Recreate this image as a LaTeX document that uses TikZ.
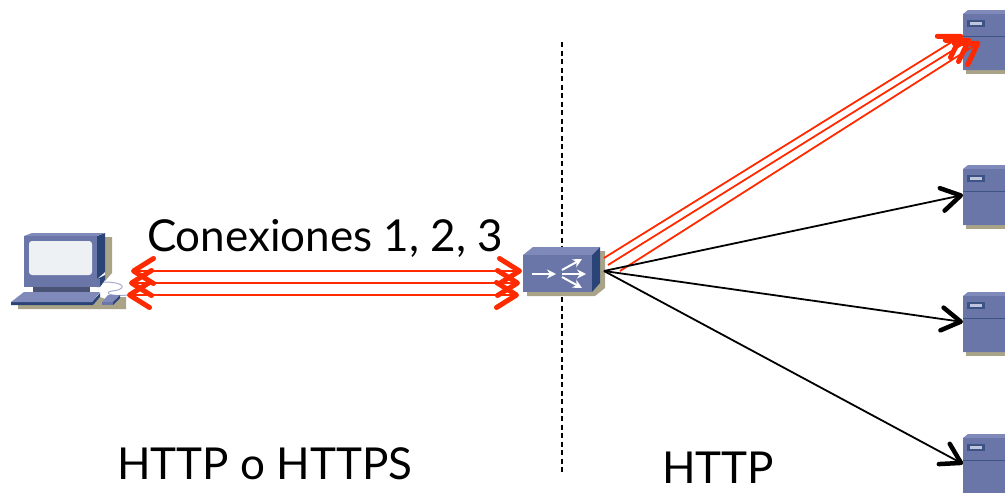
\documentclass[tikz,border=0pt]{standalone}
\usepackage{fontspec}
\setmainfont{Lato}
\usetikzlibrary{arrows.meta}
\definecolor{iconblue}{HTML}{6A76A8}
\definecolor{icontop}{HTML}{7F8ABA}
\definecolor{icondark}{HTML}{2A4478}
\definecolor{iconshadow}{HTML}{A9A387}
\definecolor{iconscreen}{HTML}{EDF1F4}
\definecolor{linkred}{HTML}{FF2A00}
\tikzset{
	anchorbox/.style={inner sep=0pt, outer sep=0pt, minimum width=#1},
	redlink/.style={linkred, line width=1.8pt},
	redtip/.tip={Straight Barb[length=20pt, width=25pt, line width=5pt, round]},
	blacktip/.tip={Straight Barb[length=19pt, width=23pt, line width=4.5pt, round]},
	blacklink/.style={black, line width=1.8pt, -blacktip},
	routerarrow/.style={white, line width=2pt, -{Stealth[length=9pt, width=9pt]}},
	bigtext/.style={inner sep=0pt, font=\fontsize{44}{44}\selectfont},
	server/.pic={
		\fill[iconshadow] (-18,27) rectangle (21,34);
		\fill[icontop] (-21,-26) -- (-16,-30) -- (21,-30) -- (21,30) -- (-21,30) -- cycle;
		\fill[iconblue] (-21,-26) rectangle (21,30);
		\draw[icondark!70!iconblue, line width=.8pt] (-21,-4) -- (21,-4);
		\fill[icondark!70!iconblue] (-17,-20) rectangle (1,-13);
		\fill[icontop!50!white] (-14,-18) rectangle (-2,-15.5);
	},
	hostpc/.pic={
		% shadow
		\fill[iconshadow] (105,237) -- (112,237) -- (112,273) -- (105,281) -- cycle;
		\fill[iconshadow] (18,305) -- (92,305) -- (100,297) -- (108,300) -- (108,309) -- (18,309) -- cycle;
		\fill[iconshadow] (108,304) -- (120,297) -- (126,297) -- (126,309) -- (108,309) -- cycle;
		% cable
		\draw[iconblue!60!white, line width=1pt] (103,282) .. controls (128,282) and (126,290) .. (112,291) .. controls (104,292) and (108,297) .. (128,295);
		% monitor
		\fill[icondark] (97,236) -- (105,233) -- (105,272) -- (97,279) -- cycle;
		\fill[icontop] (24,236) -- (32,233) -- (105,233) -- (97,236) -- cycle;
		\fill[iconblue] (24,236) rectangle (97,279);
		\fill[iconscreen, rounded corners=3pt] (29,241) rectangle (92,275);
		% base
		\fill[icondark] (97,279) -- (105,275) -- (105,280) -- (100,287) -- (97,287) -- cycle;
		\fill[iconblue] (24,279) rectangle (100,287);
		\fill[iconblue!70!black] (33,287) rectangle (90,292);
		% keyboard
		\fill[icondark] (11,302) -- (92,302) -- (100,293) -- (100,297) -- (93,305) -- (11,305) -- cycle;
		\fill[icontop] (11,302) -- (24,292) -- (100,292) -- (92,302) -- cycle;
		% mouse
		\fill[icontop] (102,302) -- (108,295) -- (120,295) -- (113,302) -- cycle;
		\fill[iconblue] (102,302) rectangle (113,305);
		\fill[icondark] (113,305) -- (120,298) -- (120,295) -- (113,302) -- cycle;
	},
	hostrouter/.pic={
		\fill[iconshadow] (600,251) -- (605,251) -- (605,288) -- (595,296) -- (527,296) -- (527,292) -- (592,292) -- cycle;
		\fill[icontop] (523,255) -- (533,247) -- (600,247) -- (592,255) -- cycle;
		\fill[icondark] (592,255) -- (600,247) -- (600,283) -- (592,292) -- cycle;
		\fill[iconblue] (523,255) rectangle (592,292);
		\draw[routerarrow] (532,274) -- (556,274);
		\draw[routerarrow] (562,270) -- (582,259);
		\draw[routerarrow] (562,274) -- (586,274);
		\draw[routerarrow] (562,277) -- (582,288);
	},
}
\begin{document}
\begin{tikzpicture}[x=1pt, y=-1pt]
	\useasboundingbox (0,0) rectangle (1005,493);

	% separator
	\coordinate (dashtop) at (562,42);
	\coordinate (dashbot) at (562,472);
	\draw[black, line width=1.3pt, dash pattern=on 5pt off 3.5pt] (dashtop) -- (dashbot);

	% icons
	\pic at (0,0) {hostpc};
	\pic at (0,0) {hostrouter};
	\node[anchorbox=122, minimum height=70] (pc) at (68,283) {};
	\node[anchorbox=82, minimum height=48] (router) at (563,271) {};

	\foreach \name/\ypos in {srv1/40, srv2/195, srv3/322, srv4/464} {
		\pic at (984,\ypos) {server};
		\node[anchorbox=42, minimum height=60] (\name) at (984,\ypos) {};
	}

	% the three connections
	\draw[redlink, {redtip}-{redtip}] ([xshift=2pt, yshift=12pt]pc.east) -- ([xshift=-41pt]router.center);
	\draw[redlink, {redtip}-{redtip}] (pc.east) -- ([xshift=-43pt, yshift=-12pt]router.center);
	\draw[redlink, {redtip}-{redtip}] ([xshift=-2pt, yshift=-12pt]pc.east) -- ([xshift=-44pt, yshift=-24pt]router.center);

	\draw[redlink, -{redtip}] ([yshift=13pt]router.east) -- ([yshift=5pt]srv1.west);
	\draw[redlink, -{redtip}] ([xshift=4pt, yshift=6pt]router.east) -- ([xshift=8pt, yshift=1pt]srv1.west);
	\draw[redlink, -{redtip}] ([xshift=16pt]router.east) -- ([xshift=17pt, yshift=-2pt]srv1.west);

	\draw[blacklink] (router.east) -- (srv2.west);
	\draw[blacklink] (router.east) -- (srv3.west);
	\draw[blacklink] (router.east) -- (srv4.west);

	% labels
	\node[bigtext, anchor=base] (lblconn) at (325,251) {Conexiones 1, 2, 3};
	\node[bigtext, anchor=base] (lblleft) at (265,479) {HTTP o HTTPS};
	\node[bigtext, anchor=base] (lblright) at (718,483) {HTTP};
\end{tikzpicture}
\end{document}
